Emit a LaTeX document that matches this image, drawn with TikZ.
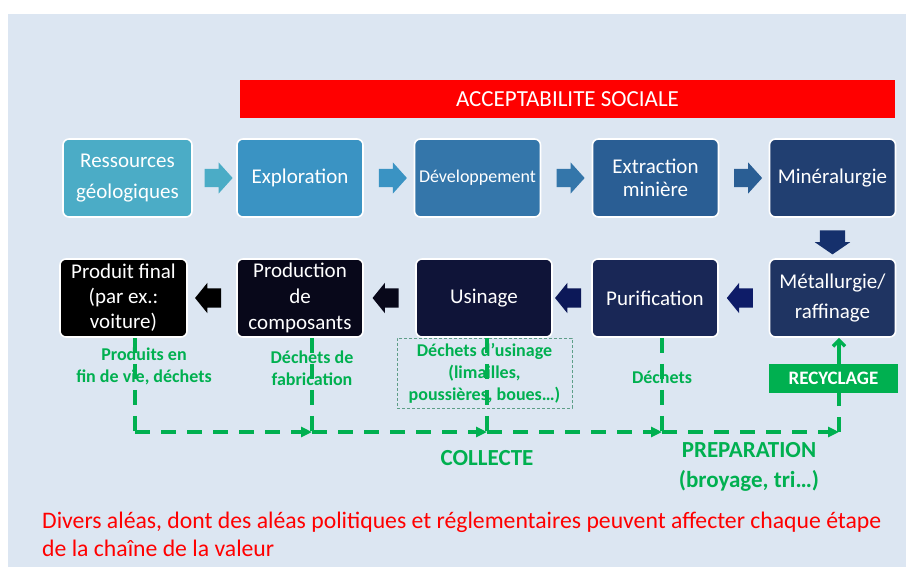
\documentclass[tikz,border=0pt]{standalone}
\usepackage{fontspec}
\setmainfont{Carlito}
\usetikzlibrary{shapes.arrows, arrows.meta, calc}

\definecolor{bgblue}{HTML}{DCE6F2}
\definecolor{stage1}{HTML}{4BACC6}
\definecolor{stage2}{HTML}{3A93C3}
\definecolor{stage3}{HTML}{3476AA}
\definecolor{stage4}{HTML}{2A5E94}
\definecolor{stage5}{HTML}{213F71}
\definecolor{stage6}{HTML}{1F3462}
\definecolor{stage7}{HTML}{192756}
\definecolor{stage8}{HTML}{0F1438}
\definecolor{stage9}{HTML}{08081A}
\definecolor{arrdown}{HTML}{15306C}
\definecolor{arrnavy}{HTML}{0E1C68}
\definecolor{wastegreen}{HTML}{00B050}
\definecolor{boxline}{HTML}{5E9E88}

\tikzset{
  stage/.style={draw=white, line width=1.6pt, rounded corners=6pt, minimum width=126pt,
    minimum height=78pt, text=white, align=center, inner sep=2pt,
    font=\fontsize{21}{25}\selectfont},
  flow/.style={single arrow, draw=none, inner xsep=0pt, inner ysep=9pt, minimum width=1pt,
    minimum height=28pt, single arrow head extend=6.5pt, single arrow tip angle=96},
  backflow/.style={flow, shape border rotate=180, minimum height=26pt, inner ysep=9.5pt,
    single arrow head extend=5.5pt, single arrow tip angle=102},
  waste/.style={wastegreen, line width=3.5pt, dash pattern=on 15pt off 11pt},
  wastelbl/.style={text=wastegreen, align=center, font=\bfseries\fontsize{18}{22}\selectfont},
}

\begin{document}
\begin{tikzpicture}[x=1pt, y=-1pt]
\useasboundingbox (0,0) rectangle (906,574);
\fill[bgblue] (8,14) rectangle (906,567);

% Social acceptance banner
\node[fill=red, minimum width=655pt, minimum height=38pt, text=white,
  font=\fontsize{23}{27}\selectfont] (social) at (567.5,99) {ACCEPTABILITE SOCIALE};

% Upstream chain
\node[stage, fill=stage1, minimum width=129pt, font=\fontsize{21}{31}\selectfont] (res) at (127.5,178) {Ressources\\géologiques};
\node[stage, fill=stage2] (expl) at (300,178) {Exploration};
\node[stage, fill=stage3, font=\fontsize{18}{22}\selectfont] (dev) at (477.5,178) {Développement};
\node[stage, fill=stage4, font=\fontsize{21}{23}\selectfont] (extr) at (655.5,178) {Extraction\\minière};
\node[stage, fill=stage5] (mine) at (832.5,178) {Minéralurgie};

% Downstream chain
\node[stage, fill=stage6, font=\fontsize{21}{30}\selectfont] (meta) at (832.5,298) {Métallurgie/\\raffinage};
\node[stage, fill=stage7] (puri) at (655,298) {Purification};
\node[stage, fill=stage8, minimum width=136pt] (usi) at (484,298) {Usinage};
\node[stage, fill=stage9, font=\fontsize{21}{26}\selectfont] (prod) at (300,298) {Production\\de\\composants};
\node[stage, fill=black, minimum width=127pt] (pf) at (123.5,298) {Produit final\\(par ex.:\\voiture)};

% Block arrows between stages
\node[flow, fill=stage1] (a1) at ($(res.east)!0.5!(expl.west)$) {};
\node[flow, fill=stage2] (a2) at ($(expl.east)!0.5!(dev.west)$) {};
\node[flow, fill=stage3] (a3) at ($(dev.east)!0.5!(extr.west)$) {};
\node[flow, fill=stage4] (a4) at ($(extr.east)!0.5!(mine.west)$) {};
\node[flow, fill=arrdown, shape border rotate=270, minimum height=24pt, inner ysep=0pt, inner xsep=12.5pt,
  single arrow head extend=5pt, single arrow tip angle=111] (a5) at ($(mine.south)!0.5!(meta.north)$) {};
\node[backflow, fill=arrnavy] (a6) at ($(meta.west)!0.5!(puri.east)$) {};
\node[backflow, fill=arrnavy!85!black] (a7) at ($(puri.west)!0.5!(usi.east)$) {};
\node[backflow, fill=stage9] (a8) at ($(usi.west)!0.5!(prod.east)$) {};
\node[backflow, fill=black] (a9) at ($(prod.west)!0.5!(pf.east)$) {};

% Waste streams
\node[wastelbl] (lblpf) at (144,366) {Produits en\\fin de vie, déchets};
\node[wastelbl] (lblprod) at (312,368) {Déchets de\\fabrication};
\node[wastelbl, draw=boxline, line width=0.8pt, densely dashed, minimum width=175pt,
  minimum height=70pt] (lblusi) at (484.5,373) {Déchets d’usinage\\(limailles,\\poussières, boues…)};
\node[wastelbl] (lbldech) at (662,377) {Déchets};
\node[fill=wastegreen, text=white, minimum width=129pt, minimum height=29pt,
  font=\bfseries\fontsize{19}{22}\selectfont] (recy) at (833.5,378.5) {RECYCLAGE};

\coordinate (c1) at (135,432);
\coordinate (c2) at (312,432);
\coordinate (c3) at (487,432);
\coordinate (c4) at (662,432);
\coordinate (c5) at (839,432);

\draw[waste] (pf.south -| c1) -- (c1);
\foreach \b/\c in {prod/c2, usi/c3, puri/c4}
  \draw[waste] (\b.south -| \c) -- (\c);
\draw[waste, -{Triangle[length=11pt,width=10pt]}] (c1) -- (c2);
\draw[waste, -{Triangle[length=11pt,width=10pt]}] (c2) -- (c3);
\draw[waste, -{Triangle[length=11pt,width=10pt]}] (c3) -- (c4);
\draw[waste, -{Triangle[length=11pt,width=10pt]}] (c4) -- (c5);
\draw[waste] (c5) -- (c5 |- recy.south);
\draw[wastegreen, line width=3.5pt, -{Straight Barb[length=6pt,width=12pt]}] (recy.north -| c5) -- (meta.south -| c5);

\node[wastelbl, font=\bfseries\fontsize{23}{27}\selectfont] (collecte) at (487,458) {COLLECTE};
\node[wastelbl, font=\bfseries\fontsize{23}{30}\selectfont] (prep) at (749,467) {PREPARATION\\(broyage, tri…)};

% Hazards note
\node[anchor=west, text=red, align=left, inner sep=0pt, font=\fontsize{23.7}{28}\selectfont] (note) at (42,534)
  {Divers aléas, dont des aléas politiques et réglementaires peuvent affecter chaque étape\\de la chaîne de la valeur};
\end{tikzpicture}
\end{document}
